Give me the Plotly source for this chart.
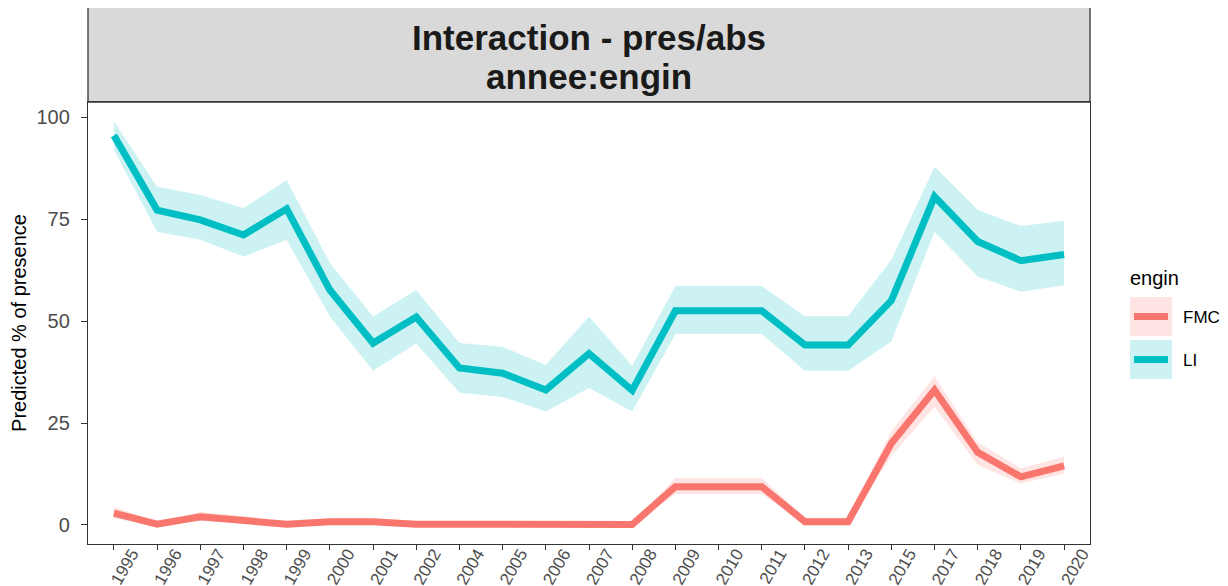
import plotly.graph_objects as go

years = ["1995", "1996", "1997", "1998", "1999", "2000", "2001", "2002", "2004",
         "2005", "2006", "2007", "2008", "2009", "2010", "2011", "2012", "2013",
         "2015", "2017", "2018", "2019", "2020"]

li_fit = [95.5, 77.2, 74.8, 71.1, 77.5, 57.6, 44.6, 51.0, 38.5,
          37.2, 33.1, 42.0, 33.0, 52.5, 52.5, 52.5, 44.1, 44.1,
          55.0, 80.5, 69.5, 64.8, 66.3]
li_low = [92.0, 71.9, 69.9, 65.8, 69.9, 51.1, 37.8, 44.5, 32.4,
          31.4, 27.8, 33.6, 27.8, 46.8, 46.8, 46.8, 37.8, 37.8,
          45.0, 71.9, 60.9, 57.2, 58.8]
li_high = [98.9, 82.9, 80.9, 77.7, 84.6, 64.2, 51.1, 57.6, 44.6,
           43.7, 39.2, 51.1, 39.0, 58.6, 58.6, 58.6, 51.2, 51.2,
           65.0, 87.8, 77.2, 73.3, 74.6]

fmc_fit = [2.9, 0.2, 2.0, 1.2, 0.2, 0.8, 0.8, 0.2, 0.1,
           0.1, 0.1, 0.1, 0.1, 9.4, 9.4, 9.4, 0.8, 0.8,
           20.0, 33.1, 17.8, 11.8, 14.5]
fmc_low = [1.5, 0.0, 1.0, 0.5, 0.0, 0.3, 0.3, 0.0, 0.0,
           0.0, 0.0, 0.0, 0.0, 7.6, 7.6, 7.6, 0.2, 0.2,
           17.0, 29.0, 14.7, 10.2, 12.6]
fmc_high = [4.5, 0.6, 3.2, 2.2, 0.6, 1.6, 1.6, 0.6, 0.3,
            0.3, 0.3, 0.3, 0.3, 11.5, 11.5, 11.5, 1.8, 1.8,
            23.0, 36.4, 20.2, 13.9, 16.7]

series = [
    ("FMC", fmc_fit, fmc_low, fmc_high, "#F8766D", "rgba(248,118,109,0.2)"),
    ("LI", li_fit, li_low, li_high, "#00BFC4", "rgba(0,191,196,0.2)"),
]

fig = go.Figure()
for name, fit, low, high, col, fillcol in series:
    fig.add_trace(go.Scatter(
        x=years + years[::-1], y=high + low[::-1],
        fill="toself", fillcolor=fillcol, line=dict(width=0),
        mode="lines", showlegend=False, hoverinfo="skip", legendgroup=name))
for name, fit, low, high, col, fillcol in series:
    fig.add_trace(go.Scatter(
        x=years, y=fit, mode="lines", name=name, legendgroup=name,
        showlegend=False, line=dict(color=col, width=7)))

font_family = "Liberation Sans, Arial, sans-serif"

# the page body adds an 8px offset; layout coordinates below are page pixels
OFF = 8
L, R, T, B = 88 - OFF, 1090 - OFF, 102 - OFF, 544 - OFF
W, H = R - L, B - T


def px(xp):
    return (xp - OFF - L) / W


def py(yp):
    return (B - (yp - OFF)) / H


fig.update_layout(
    width=1228, height=586,
    margin=dict(l=L, r=1228 - R, t=T, b=586 - B, autoexpand=False),
    paper_bgcolor="white", plot_bgcolor="white",
    font=dict(family=font_family, color="#000000"),
    showlegend=False,
    xaxis=dict(
        type="category", categoryorder="array", categoryarray=years,
        range=[-0.6, len(years) - 0.4], automargin=False,
        showgrid=False, zeroline=False,
        showline=True, linecolor="#333333", linewidth=1.3, mirror=True,
        ticks="outside", ticklen=5, tickcolor="#333333",
        ticklabelstandoff=-13, ticklabelshift=18,
        tickangle=-60, tickfont=dict(size=17, color="#4D4D4D"),
    ),
    yaxis=dict(
        range=[-4.66, 103.7], automargin=False,
        tickvals=[0, 25, 50, 75, 100],
        showgrid=False, zeroline=False,
        showline=True, linecolor="#333333", linewidth=1.3, mirror=True,
        ticks="outside", ticklen=6, tickcolor="#333333",
        ticklabelstandoff=7,
        tickfont=dict(size=20, color="#4D4D4D"),
        title=dict(text="Predicted % of presence", font=dict(size=20, color="#000000"), standoff=4),
    ),
)

# facet strip
fig.add_shape(type="rect", xref="paper", yref="paper",
              x0=0, x1=1, y0=1, y1=py(6),
              fillcolor="#D9D9D9", line=dict(color="#333333", width=1.3), layer="below")
fig.add_annotation(xref="paper", yref="paper", x=0.5, y=py(37),
                   text="<b>Interaction - pres/abs</b>",
                   showarrow=False, font=dict(size=35, color="#1A1A1A"),
                   xanchor="center", yanchor="middle")
fig.add_annotation(xref="paper", yref="paper", x=0.5, y=py(76),
                   text="<b>annee:engin</b>",
                   showarrow=False, font=dict(size=35, color="#1A1A1A"),
                   xanchor="center", yanchor="middle")

# legend (drawn manually to match ggplot key layout)
fig.add_annotation(xref="paper", yref="paper", x=px(1128), y=py(278),
                   text="engin", showarrow=False, xanchor="left", yanchor="middle",
                   font=dict(size=20, color="#000000"))
key_rows = [(297, 336), (340, 379)]
for (name, fit, low, high, col, fillcol), (y0, y1) in zip(series, key_rows):
    fig.add_shape(type="rect", xref="paper", yref="paper",
                  x0=px(1130), x1=px(1172), y0=py(y1), y1=py(y0),
                  fillcolor=fillcol, line=dict(width=0))
    ym = (y0 + y1) / 2
    fig.add_shape(type="line", xref="paper", yref="paper",
                  x0=px(1134), x1=px(1168), y0=py(ym), y1=py(ym),
                  line=dict(color=col, width=7))
    fig.add_annotation(xref="paper", yref="paper", x=px(1181), y=py(ym + 1),
                       text=name, showarrow=False, xanchor="left", yanchor="middle",
                       font=dict(size=17, color="#000000"))

fig.write_html("out.html")
